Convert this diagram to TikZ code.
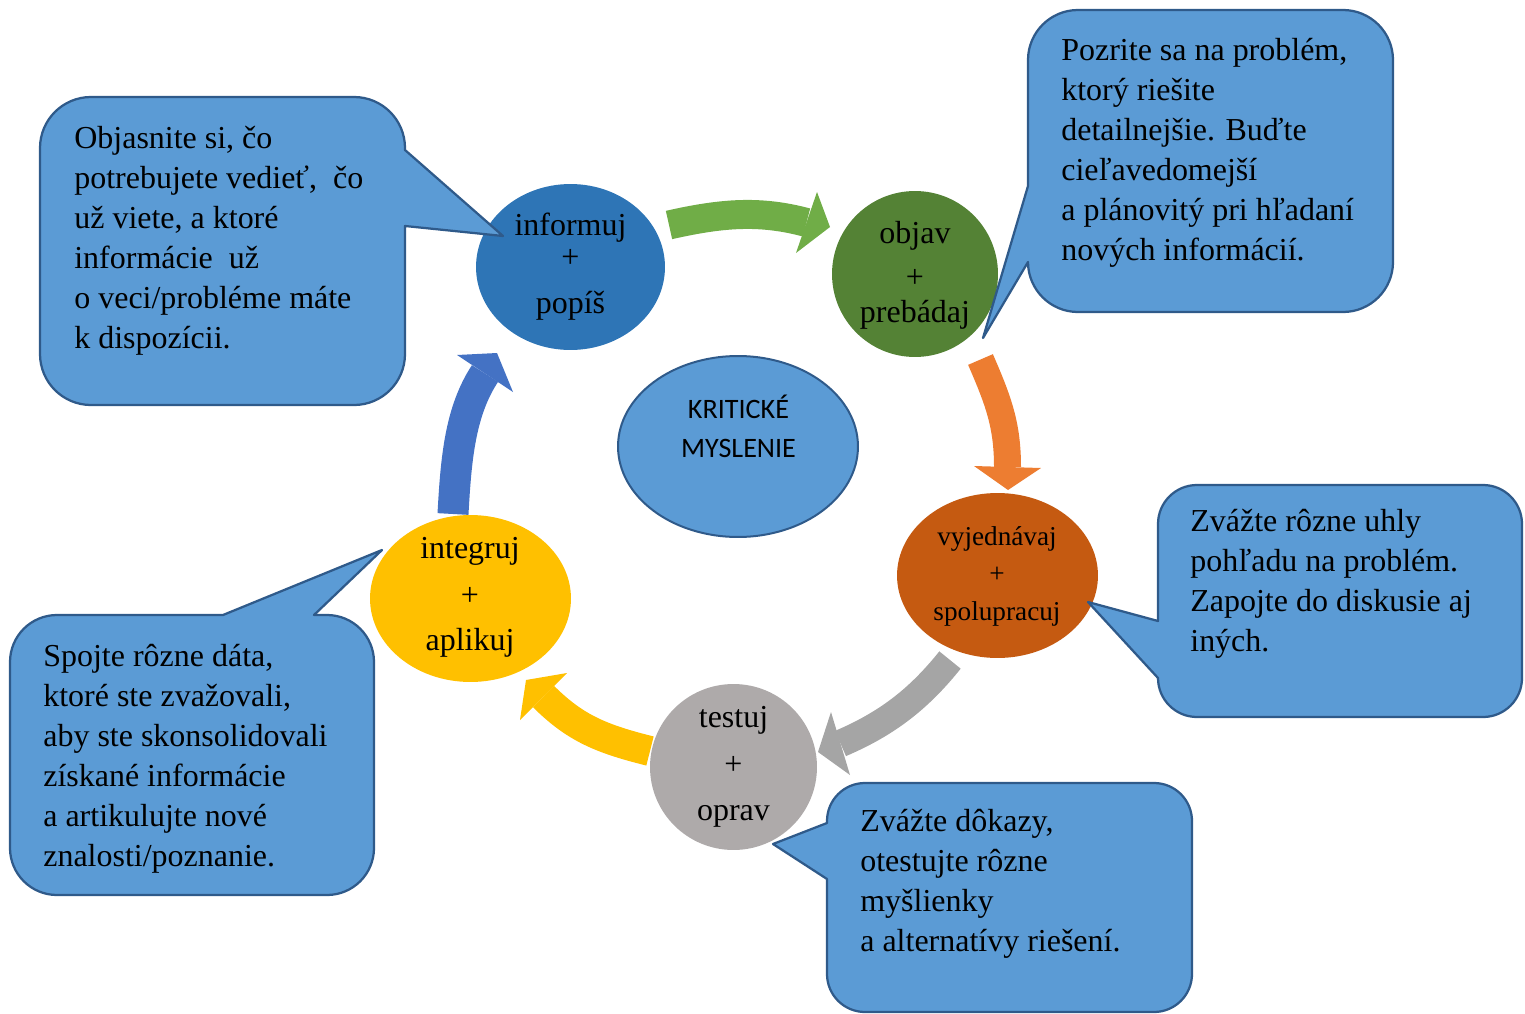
\documentclass[tikz,border=0pt]{standalone}
\usepackage{fontspec}
\setmainfont{Liberation Serif}
\newfontfamily\calib{Carlito}
\usetikzlibrary{shapes.geometric}
\definecolor{cbox}{HTML}{5B9BD5}
\definecolor{cedge}{HTML}{2F5A8A}
\definecolor{cinf}{HTML}{2E75B6}
\definecolor{cobj}{HTML}{548235}
\definecolor{cvyj}{HTML}{C55A11}
\definecolor{ctest}{HTML}{AEAAAA}
\definecolor{cint}{HTML}{FFC000}
\definecolor{agreen}{HTML}{70AD47}
\definecolor{aorange}{HTML}{ED7D31}
\definecolor{agray}{HTML}{A5A5A5}
\definecolor{ayellow}{HTML}{FFC000}
\definecolor{ablue}{HTML}{4472C4}
\tikzset{
  stage/.style={ellipse, inner sep=0pt, draw=none},
  lbl/.style={anchor=base, inner sep=0pt, font=\fontsize{18.2}{22}\selectfont},
  lblsmall/.style={anchor=base, inner sep=0pt, font=\fontsize{15.5}{19}\selectfont},
  lblsans/.style={anchor=base, inner sep=0pt, font=\calib\fontsize{16}{19}\selectfont},
  callout/.style={fill=cbox, draw=cedge, line width=0.045cm, line join=round},
  ctext/.style={anchor=north west, inner sep=0pt, align=left, font=\fontsize{18.2}{22.8}\selectfont},
  arrowbody/.style={line cap=butt},
}
\newcommand{\fl}{\rule{0pt}{0.8em}}
\begin{document}
\begin{tikzpicture}[x=0.02cm, y=-0.02cm]
\useasboundingbox (0,0) rectangle (1525,1014);

% ---------- arrow coordinates ----------
\coordinate (gS) at (669,225);   \coordinate (gB) at (806.5,222.5);
\coordinate (gT) at (830,227);   \coordinate (gP) at (817,192);   \coordinate (gQ) at (796,253);
\coordinate (oS) at (980.5,359.5); \coordinate (oB) at (1007.5,467);
\coordinate (oT) at (1008,490);  \coordinate (oP) at (974,466);   \coordinate (oQ) at (1041,468);
\coordinate (rS) at (950,660);   \coordinate (rB) at (840.5,743.5);
\coordinate (rT) at (818,752);   \coordinate (rP) at (831,712);   \coordinate (rQ) at (850,775);
\coordinate (yS) at (650,751);   \coordinate (yB) at (543.5,696.5);
\coordinate (yT) at (526,680);   \coordinate (yP) at (567,673);   \coordinate (yQ) at (520,720);
\coordinate (bS) at (453,514);   \coordinate (bB) at (485,373.5);
\coordinate (bT) at (497,353);   \coordinate (bP) at (457,355);   \coordinate (bQ) at (513,392);

% ---------- arrows ----------
\draw[arrowbody, agreen, line width=0.58cm] (gS) .. controls +(53,-12) and +(-46.5,-12.5) .. (gB);
\fill[agreen] (gT) -- (gP) -- (gQ) -- cycle;
\draw[arrowbody, aorange, line width=0.54cm] (oS) .. controls +(18,41.5) and +(0,-42) .. (oB);
\fill[aorange] (oT) -- (oP) -- (oQ) -- cycle;
\draw[arrowbody, agray, line width=0.55cm] (rS) .. controls +(-32,40) and +(45.5,-19.5) .. (rB);
\fill[agray] (rT) -- (rP) -- (rQ) -- cycle;
\draw[arrowbody, ayellow, line width=0.6cm] (yS) .. controls +(-48,-12) and +(32,32) .. (yB);
\fill[ayellow] (yT) -- (yP) -- (yQ) -- cycle;
\draw[arrowbody, ablue, line width=0.62cm] (bS) .. controls +(3,-55) and +(-25,38) .. (bB);
\fill[ablue] (bT) -- (bP) -- (bQ) -- cycle;

% ---------- stages ----------
\node[stage, fill=cinf, minimum width=3.78cm, minimum height=3.32cm] (inf) at (570.5,267) {};
\node[stage, fill=cobj, minimum width=3.32cm, minimum height=3.32cm] (obj) at (915,274) {};
\node[stage, fill=cvyj, minimum width=4.02cm, minimum height=3.30cm] (vyj) at (997.5,575.5) {};
\node[stage, fill=ctest, minimum width=3.34cm, minimum height=3.32cm] (tst) at (733.5,767) {};
\node[stage, fill=cint, minimum width=4.02cm, minimum height=3.34cm] (int) at (470.5,598.5) {};
\node[ellipse, inner sep=0pt, fill=cbox, draw=cedge, line width=0.04cm,
      minimum width=4.8cm, minimum height=3.62cm] (krit) at (738,446.5) {};

\node[lbl] (infA) at (570.5,235) {informuj};
\node[lbl] (infB) at (570.5,267) {+};
\node[lbl] (infC) at (570.5,313) {popíš};
\node[lbl] (objA) at (915,243) {objav};
\node[lbl] (objB) at (915,287) {+};
\node[lbl] (objC) at (915,322) {prebádaj};
\node[lblsmall] (vyjA) at (997,545) {vyjednávaj};
\node[lblsmall] (vyjB) at (997,582) {+};
\node[lblsmall] (vyjC) at (997,620) {spolupracuj};
\node[lbl] (tstA) at (733.5,727) {testuj};
\node[lbl] (tstB) at (733.5,774) {+};
\node[lbl] (tstC) at (733.5,820) {oprav};
\node[lbl] (intA) at (470,558) {integruj};
\node[lbl] (intB) at (470,605) {+};
\node[lbl] (intC) at (470,650) {aplikuj};
\node[lblsans] (kritA) at (738.5,418) {KRITICKÉ};
\node[lblsans] (kritB) at (738.5,457) {MYSLENIE};

% ---------- callouts ----------
% C1 top-left
\draw[callout] (91,97) -- (354,97) arc[start angle=270, end angle=360, radius=51]
  -- (405,150) -- (503,236) -- (405,226) -- (405,354) arc[start angle=0, end angle=90, radius=51]
  -- (91,405) arc[start angle=90, end angle=180, radius=51]
  -- (40,148) arc[start angle=180, end angle=270, radius=51] -- cycle;
\node[ctext] (t1) at (74,122.4) {\fl Objasnite si, čo\\potrebujete vedieť,~ čo\\už viete, a ktoré\\informácie~ už\\o veci/probléme máte\\k dispozícii.};

% C2 top-right
\draw[callout] (1078,10) -- (1343,10) arc[start angle=270, end angle=360, radius=50]
  -- (1393,262) arc[start angle=0, end angle=90, radius=50]
  -- (1078,312) arc[start angle=90, end angle=180, radius=50]
  -- (983,338) -- (1028,186) -- (1028,60) arc[start angle=180, end angle=270, radius=50] -- cycle;
\node[ctext] (t2) at (1061,34.4) {\fl Pozrite sa na problém,\\ktorý riešite\\detailnejšie. Buďte\\cieľavedomejší\\a plánovitý pri hľadaní\\nových informácií.};

% C3 right
\draw[callout] (1197,485) -- (1483,485) arc[start angle=270, end angle=360, radius=39]
  -- (1522,678) arc[start angle=0, end angle=90, radius=39]
  -- (1197,717) arc[start angle=90, end angle=180, radius=39]
  -- (1088,602) -- (1158,621) -- (1158,524) arc[start angle=180, end angle=270, radius=39] -- cycle;
\node[ctext] (t3) at (1190,505.4) {\fl Zvážte rôzne uhly\\pohľadu na problém.\\Zapojte do diskusie aj\\iných.};

% C4 bottom
\draw[callout] (865,783) -- (1154,783) arc[start angle=270, end angle=360, radius=38]
  -- (1192,974) arc[start angle=0, end angle=90, radius=38]
  -- (865,1012) arc[start angle=90, end angle=180, radius=38]
  -- (827,879) -- (773,844) -- (827,823) -- (827,821) arc[start angle=180, end angle=270, radius=38] -- cycle;
\node[ctext] (t4) at (860,805.4) {\fl Zvážte dôkazy,\\otestujte rôzne\\myšlienky\\a alternatívy riešení.};

% C5 bottom-left
\draw[callout] (57,615) -- (223,615) -- (382,550) -- (314,615) -- (327,615)
  arc[start angle=270, end angle=360, radius=47]
  -- (374,848) arc[start angle=0, end angle=90, radius=47]
  -- (57,895) arc[start angle=90, end angle=180, radius=47]
  -- (10,662) arc[start angle=180, end angle=270, radius=47] -- cycle;
\node[ctext] (t5) at (43,640.4) {\fl Spojte rôzne dáta,\\ktoré ste zvažovali,\\aby ste skonsolidovali\\získané informácie\\a artikulujte nové\\znalosti/poznanie.};
\end{tikzpicture}
\end{document}
